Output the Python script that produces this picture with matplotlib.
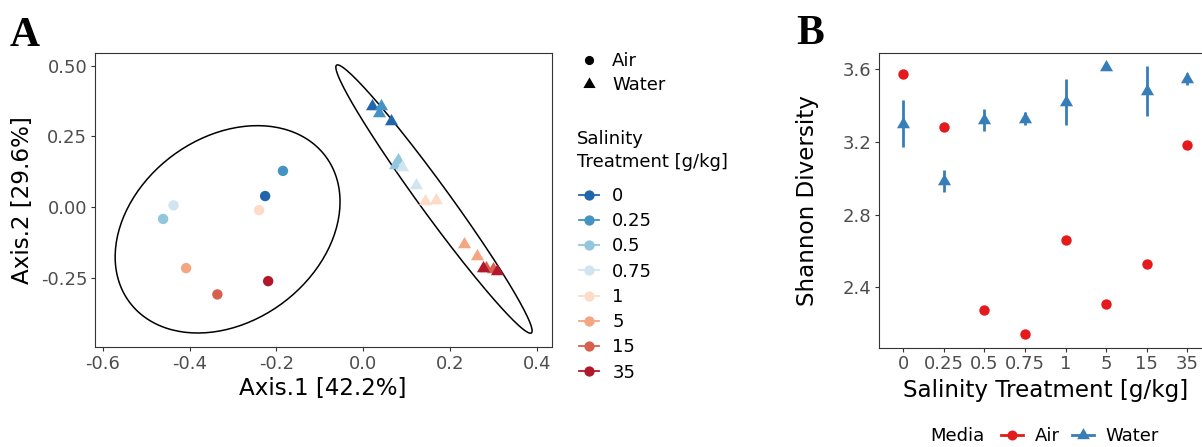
import numpy as np
import matplotlib
matplotlib.use("Agg")
import matplotlib.pyplot as plt
from matplotlib.lines import Line2D
from matplotlib.path import Path

plt.rcParams['font.family'] = ['DejaVu Sans']
plt.rcParams['axes.unicode_minus'] = False

# salinity treatments and their colours (RdBu, reversed)
salinity = ["0", "0.25", "0.5", "0.75", "1", "5", "15", "35"]
sal_colors = ["#2166AC", "#4393C3", "#92C5DE", "#D1E5F0",
              "#FDDBC7", "#F4A582", "#D6604D", "#B2182B"]

# Panel A: PCoA, one air sample and two water samples per treatment
air_ax1 = [-0.226, -0.185, -0.461, -0.437, -0.240, -0.408, -0.336, -0.219]
air_ax2 = [0.039, 0.128, -0.042, 0.006, -0.011, -0.216, -0.309, -0.262]
water_ax1 = [[0.021, 0.064], [0.041, 0.036], [0.081, 0.074], [0.090, 0.121],
             [0.142, 0.167], [0.232, 0.263], [0.282, 0.298], [0.276, 0.307]]
water_ax2 = [[0.356, 0.303], [0.356, 0.333], [0.165, 0.148], [0.140, 0.077],
             [0.022, 0.026], [-0.131, -0.172], [-0.216, -0.220], [-0.214, -0.225]]

# Panel B: Shannon diversity
air_shannon = [3.573, 3.281, 2.274, 2.142, 2.659, 2.309, 2.530, 3.185]
water_shannon = [3.300, 2.986, 3.320, 3.327, 3.417, 3.610, 3.479, 3.546]
water_sd = [0.131, 0.060, 0.059, 0.035, 0.126, 0.0, 0.137, 0.034]

AIR_RED = "#E41A1C"
WATER_BLUE = "#377EB8"
GREY = "#4D4D4D"
FRAME = "#333333"
TICK_FS = 13.0
TITLE_FS = 16.6

# triangle centred on its centroid, like R's pch 17
tri = Path([(0, 1), (-0.866, -0.5), (0.866, -0.5), (0, 1)],
           [Path.MOVETO, Path.LINETO, Path.LINETO, Path.CLOSEPOLY])


def cov_trob(xy, nu=5, maxit=25, tol=0.01):
    # multivariate t robust covariance (as MASS::cov.trob)
    n, p = xy.shape
    loc = xy.mean(axis=0)
    w = np.ones(n)
    for _ in range(maxit):
        w0 = w
        X = xy - loc
        _, d, vt = np.linalg.svd(np.sqrt(w / w.sum())[:, None] * X, full_matrices=False)
        wX = X @ vt.T / d
        Q = (wX ** 2).sum(axis=1)
        w = (nu + p) / (nu + Q)
        loc = (w[:, None] * xy).sum(axis=0) / w.sum()
        if np.all(np.abs(w - w0) < tol):
            break
    sw = np.sqrt(w)[:, None] * X
    return loc, sw.T @ sw / n


def ellipse_path(xy, level=0.9, segments=200):
    n = len(xy)
    center, shape = cov_trob(xy)
    dfd = n - 1
    qf = dfd / 2 * ((1 - level) ** (-2 / dfd) - 1)  # F(2, dfd) quantile
    radius = np.sqrt(2 * qf)
    ang = np.linspace(0, 2 * np.pi, segments)
    circ = np.column_stack([np.cos(ang), np.sin(ang)])
    L = np.linalg.cholesky(shape)
    return center + radius * circ @ L.T


fig = plt.figure(figsize=(12.02, 4.47), dpi=100)
W, H = 1202, 447

def style_axes(ax):
    for s in ax.spines.values():
        s.set_color(FRAME)
        s.set_linewidth(0.8)
    ax.tick_params(length=2.75, width=0.8, color=FRAME, labelcolor=GREY,
                   labelsize=TICK_FS, pad=2.5)

# ---------------- Panel A ----------------
axA = fig.add_axes([94.5 / W, 1 - 347.3 / H, (551.7 - 94.5) / W, (347.3 - 52.7) / H])
style_axes(axA)

air_xy = np.column_stack([air_ax1, air_ax2])
water_xy = np.column_stack([np.ravel(water_ax1), np.ravel(water_ax2)])
for pts in (air_xy, water_xy):
    e = ellipse_path(pts)
    axA.plot(e[:, 0], e[:, 1], color="black", lw=1.1,
             solid_capstyle="butt", solid_joinstyle="round")

axA.scatter(air_ax1, air_ax2, c=sal_colors, s=56, linewidths=0, zorder=3)
for i in range(len(salinity)):
    axA.scatter(water_ax1[i], water_ax2[i], color=sal_colors[i], marker=tri,
                s=118, linewidths=0, zorder=3)

axA.set_xlim(-0.619, 0.434)
axA.set_ylim(-0.496, 0.546)
axA.set_xticks([-0.6, -0.4, -0.2, 0.0, 0.2, 0.4])
axA.set_xticklabels(["-0.6", "-0.4", "-0.2", "0.0", "0.2", "0.4"])
axA.set_yticks([-0.25, 0.0, 0.25, 0.5])
axA.set_yticklabels(["-0.25", "0.00", "0.25", "0.50"])
axA.set_xlabel("Axis.1 [42.2%]", fontsize=TITLE_FS, labelpad=3)
axA.set_ylabel("Axis.2 [29.6%]", fontsize=TITLE_FS, labelpad=5)

# legends for panel A
shape_handles = [
    Line2D([], [], ls="none", marker="o", ms=6.6, color="black", mew=0),
    Line2D([], [], ls="none", marker=tri, ms=10.2, color="black", mew=0),
]
fig.legend(shape_handles, ["Air", "Water"], loc="upper left",
           bbox_to_anchor=(579 / W, 1 - 52 / H), frameon=False,
           fontsize=TICK_FS, handlelength=1.12, handletextpad=0.72,
           labelspacing=0.36, borderpad=0, borderaxespad=0)

fig.text(577 / W, 1 - 139 / H, "Salinity", fontsize=TICK_FS, va="center")
fig.text(577 / W, 1 - 162 / H, "Treatment [g/kg]", fontsize=TICK_FS, va="center")
col_handles = [Line2D([], [], color=c, lw=1.3, marker="o", ms=7.4, mew=0)
               for c in sal_colors]
fig.legend(col_handles, salinity, loc="upper left",
           bbox_to_anchor=(579 / W, 1 - 187 / H), frameon=False,
           fontsize=TICK_FS, handlelength=1.12, handletextpad=0.72,
           labelspacing=0.40, borderpad=0, borderaxespad=0)

# ---------------- Panel B ----------------
axB = fig.add_axes([878.7 / W, 1 - 347.7 / H, (1211.7 - 878.7) / W, (347.7 - 52.7) / H])
style_axes(axB)
xpos = np.arange(len(salinity))
axB.errorbar(xpos, water_shannon, yerr=water_sd, fmt="none", ecolor=WATER_BLUE,
             elinewidth=2.0, capsize=0, zorder=2)
axB.scatter(xpos, water_shannon, color=WATER_BLUE, marker=tri, s=118,
            linewidths=0, zorder=3)
axB.scatter(xpos, air_shannon, color=AIR_RED, s=56, linewidths=0, zorder=3)
axB.set_xlim(-0.6, len(salinity) - 0.4)
axB.set_ylim(2.068, 3.690)
axB.set_xticks(xpos)
axB.set_xticklabels(salinity)
axB.set_yticks([2.4, 2.8, 3.2, 3.6])
axB.set_yticklabels(["2.4", "2.8", "3.2", "3.6"])
axB.set_xlabel("Salinity Treatment [g/kg]", fontsize=TITLE_FS, labelpad=4)
axB.set_ylabel("Shannon Diversity", fontsize=TITLE_FS, labelpad=17)

media_handles = [
    Line2D([], [], color=AIR_RED, lw=2.0, marker="o", ms=7.2, mew=0),
    Line2D([], [], color=WATER_BLUE, lw=2.0, marker=tri, ms=10.6, mew=0),
]
fig.legend(media_handles, ["Air", "Water"], loc="center left", ncol=2,
           bbox_to_anchor=(1001 / W, 1 - 436 / H), frameon=False,
           fontsize=TICK_FS, handlelength=1.2, handletextpad=0.66,
           columnspacing=0.7, borderpad=0, borderaxespad=0)
fig.text(930 / W, 1 - 436 / H, "Media", fontsize=TICK_FS, va="center", ha="left")

# panel letters
fig.text(10 / W, 1 - 46 / H, "A", fontsize=30, fontweight="bold",
         family="Liberation Serif", va="baseline")
fig.text(796 / W, 1 - 44 / H, "B", fontsize=30, fontweight="bold",
         family="Liberation Serif", va="baseline")

fig.savefig("out.png", dpi=100)
